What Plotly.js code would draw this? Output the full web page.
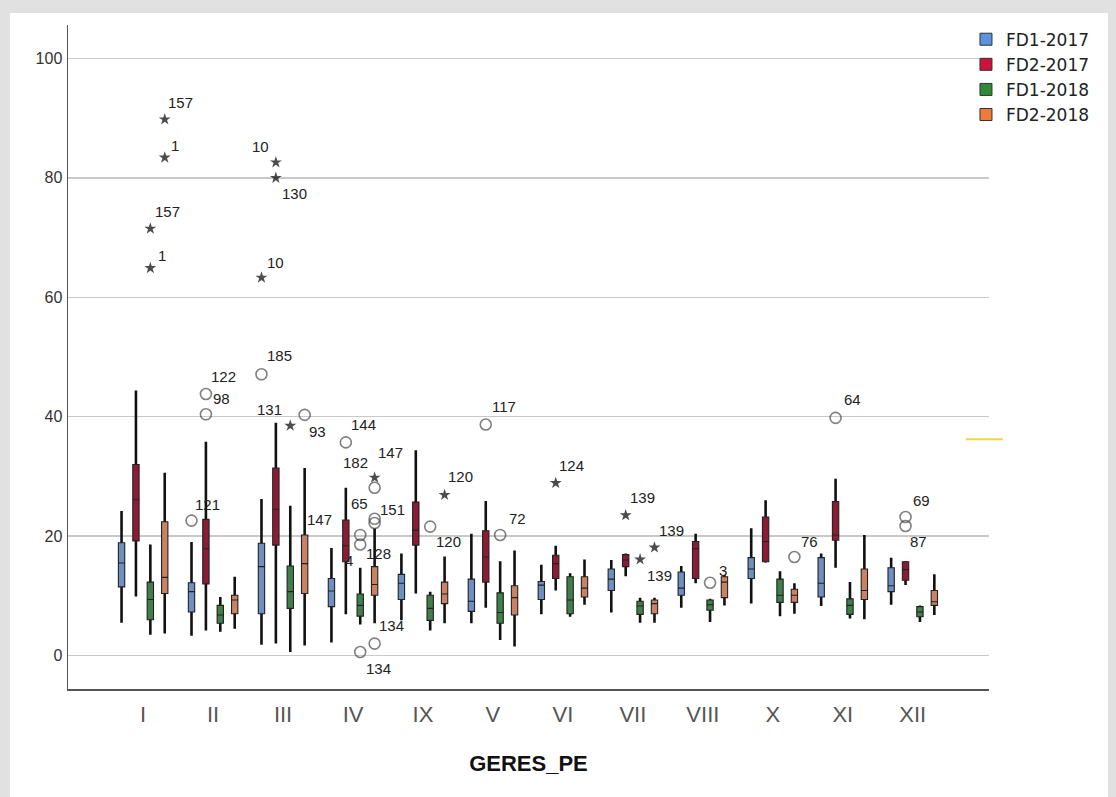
<!DOCTYPE html>
<html><head><meta charset="utf-8">
<script src="https://cdn.plot.ly/plotly-3.0.1.min.js"></script>
<style>
html,body{margin:0;padding:0;background:#e1e1e1;width:1116px;height:797px;overflow:hidden;}
#chart{position:absolute;left:10px;top:13px;width:1098px;height:784px;background:#fff;}
</style></head><body><div id="chart"></div>
<script>
// ---------- data ----------
const categories = ['I','II','III','IV','IX','V','VI','VII','VIII','X','XI','XII'];
const seriesNames = ['FD1-2017','FD2-2017','FD1-2018','FD2-2018'];

const fd1_2017_lower  = [5.5, 3.3, 1.8, 2.2, 5.9, 5.4, 6.9, 7.2, 8.0, 8.7, 8.3, 8.5];
const fd1_2017_q1     = [11.5, 7.3, 7.0, 8.2, 9.4, 7.4, 9.4, 10.9, 10.1, 12.9, 9.8, 10.7];
const fd1_2017_median = [15.5, 10.7, 14.9, 10.8, 12.1, 9.1, 11.8, 12.8, 11.3, 14.5, 12.1, 11.7];
const fd1_2017_q3     = [18.9, 12.2, 18.8, 12.9, 13.6, 12.8, 12.4, 14.5, 14.0, 16.4, 16.4, 14.7];
const fd1_2017_upper  = [24.2, 19.0, 26.2, 18.0, 17.1, 20.4, 15.2, 16.0, 15.0, 21.3, 17.1, 16.4];

const fd2_2017_lower  = [9.9, 4.2, 2.0, 6.9, 10.4, 8.0, 10.9, 13.3, 12.1, 15.6, 14.7, 11.8];
const fd2_2017_q1     = [19.2, 12.0, 18.5, 15.7, 18.5, 12.3, 12.9, 14.9, 12.9, 15.7, 19.3, 12.6];
const fd2_2017_median = [26.1, 17.9, 24.5, 18.4, 21.0, 16.5, 15.4, 16.0, 17.9, 19.1, 20.2, 14.4];
const fd2_2017_q3     = [32.0, 22.8, 31.4, 22.7, 25.7, 20.9, 16.8, 16.9, 19.1, 23.2, 25.8, 15.7];
const fd2_2017_upper  = [44.4, 35.8, 39.0, 28.1, 34.4, 25.9, 18.4, 17.1, 20.4, 26.0, 29.6, 15.8];

const fd1_2018_lower  = [3.5, 4.0, 0.6, 5.2, 4.2, 2.6, 6.5, 5.5, 5.6, 6.6, 6.2, 5.6];
const fd1_2018_q1     = [6.0, 5.4, 7.9, 6.6, 5.9, 5.4, 7.0, 6.9, 7.6, 8.9, 6.9, 6.5];
const fd1_2018_median = [9.4, 6.8, 10.7, 8.4, 7.9, 7.2, 9.3, 8.3, 8.5, 10.1, 8.4, 7.3];
const fd1_2018_q3     = [12.3, 8.4, 15.0, 10.3, 10.1, 10.5, 13.2, 9.1, 9.3, 12.8, 9.5, 8.2];
const fd1_2018_upper  = [18.6, 9.8, 25.1, 14.7, 10.7, 15.8, 13.8, 9.7, 9.5, 14.1, 12.3, 8.4];

const fd2_2018_lower  = [3.7, 4.5, 1.7, 5.4, 5.4, 1.5, 8.5, 5.5, 8.4, 7.0, 6.1, 6.8];
const fd2_2018_q1     = [10.4, 7.0, 10.4, 10.1, 8.7, 6.8, 9.8, 7.0, 9.7, 8.9, 9.4, 8.4];
const fd2_2018_median = [13.1, 9.3, 15.4, 11.9, 10.3, 9.7, 11.3, 8.7, 12.3, 10.1, 10.9, 9.0];
const fd2_2018_q3     = [22.4, 10.1, 20.2, 14.9, 12.3, 11.7, 13.2, 9.3, 13.2, 11.1, 14.5, 10.9];
const fd2_2018_upper  = [30.6, 13.2, 31.4, 21.3, 16.6, 17.6, 16.1, 9.7, 13.5, 12.1, 20.2, 13.6];

// outliers: 'o' = circle, '*' = extreme (star)
const fd1_2017_outCat   = ['II','III','III'];
const fd1_2017_outVal   = [22.6, 47.1, 63.3];
const fd1_2017_outKind  = ['o','o','*'];
const fd1_2017_outLabel = ['121','185','10'];

const fd2_2017_outCat   = ['II','II','III','III','IV','V','VI','VII','XI','XII','XII'];
const fd2_2017_outVal   = [43.8, 40.4, 82.6, 80.0, 35.7, 38.7, 28.9, 23.5, 39.8, 23.2, 21.7];
const fd2_2017_outKind  = ['o','o','*','*','o','o','*','*','o','o','o'];
const fd2_2017_outLabel = ['122','98','10','130','144','117','124','139','64','69','87'];

const fd1_2018_outCat   = ['I','I','III','IV','IV','IV','IX','V','VII','VIII'];
const fd1_2018_outVal   = [71.5, 64.9, 38.5, 20.2, 18.6, 0.6, 21.6, 20.2, 16.1, 12.2];
const fd1_2018_outKind  = ['*','*','*','o','o','o','o','o','*','o'];
const fd1_2018_outLabel = ['157','1','131','128','4','134','120','72','139','3'];

const fd2_2018_outCat   = ['I','I','III','IV','IV','IV','IV','IV','IX','VII','X'];
const fd2_2018_outVal   = [89.8, 83.4, 40.3, 29.8, 28.1, 22.9, 22.2, 2.0, 26.9, 18.1, 16.5];
const fd2_2018_outKind  = ['*','*','o','*','o','o','o','o','*','*','o'];
const fd2_2018_outLabel = ['157','1','93','147','182','65','151','134','120','139','76'];

// a case label whose marker is hidden behind the box edge
const fd2_2018_hiddenCat   = ['III'];
const fd2_2018_hiddenVal   = [20.2];
const fd2_2018_hiddenLabel = ['147'];

// ---------- styles ----------
const boxFill    = ['#6d8fc2', '#8c1c36', '#417f4a', '#c98263'];
const legendFill = ['#5b93dd', '#d2103c', '#2f8a36', '#f07a3a'];
const BOXGAP = 0.177, BOXGROUPGAP = 0.56;
// label offsets in px [dx, dy(up)] for each outlier label
const labelOffsets = [
  [[16,16],[18,19],[14,15]],
  [[18,18],[16,16],[-15,16],[19,-16],[18,18],[18,18],[16,17],[17,18],[17,18],[16,17],[13,-16]],
  [[17,17],[12,13],[-21,16],[18,-19],[-11,-16],[18,-17],[18,-15],[17,16],[19,-16],[13,12]],
  [[16,17],[10,12],[13,-17],[16,25],[-19,25],[-15,15],[18,14],[17,18],[16,18],[17,17],[15,16]]
];
const hiddenOffsets = [[15,15]];

const boxStats = [
  [fd1_2017_lower, fd1_2017_q1, fd1_2017_median, fd1_2017_q3, fd1_2017_upper],
  [fd2_2017_lower, fd2_2017_q1, fd2_2017_median, fd2_2017_q3, fd2_2017_upper],
  [fd1_2018_lower, fd1_2018_q1, fd1_2018_median, fd1_2018_q3, fd1_2018_upper],
  [fd2_2018_lower, fd2_2018_q1, fd2_2018_median, fd2_2018_q3, fd2_2018_upper]
];
const outliers = [
  [fd1_2017_outCat, fd1_2017_outVal, fd1_2017_outKind, fd1_2017_outLabel],
  [fd2_2017_outCat, fd2_2017_outVal, fd2_2017_outKind, fd2_2017_outLabel],
  [fd1_2018_outCat, fd1_2018_outVal, fd1_2018_outKind, fd1_2018_outLabel],
  [fd2_2018_outCat, fd2_2018_outVal, fd2_2018_outKind, fd2_2018_outLabel]
];

const nS = seriesNames.length;
const catIdx = c => categories.indexOf(c);
// same group offset as plotly's grouped boxes
const groupOffset = k => (1 - BOXGAP) * (-0.5 + (k + 0.5) / nS);

const FONT = 'Arial, "Liberation Sans", sans-serif';
const traces = [];
const annotations = [];
const xPos = categories.map((c, i) => i);

boxStats.forEach((s, k) => {
  // thick black whisker line (whole range), drawn first
  traces.push({
    type: 'box', name: seriesNames[k], showlegend: false, offsetgroup: 'g' + k,
    x: xPos, lowerfence: s[0], q1: s[2], median: s[2], q3: s[2], upperfence: s[4],
    fillcolor: 'rgba(0,0,0,0)', line: {color: '#111', width: 2.6},
    whiskerwidth: 0, boxpoints: false, hoverinfo: 'skip'
  });
  // coloured box on top
  traces.push({
    type: 'box', name: seriesNames[k], showlegend: false, offsetgroup: 'g' + k,
    x: xPos, lowerfence: s[1], q1: s[1], median: s[2], q3: s[3], upperfence: s[3],
    fillcolor: boxFill[k], line: {color: '#222', width: 1.1},
    whiskerwidth: 0, boxpoints: false, hoverinfo: 'y'
  });
});

outliers.forEach((o, k) => {
  const xs = o[0].map(c => catIdx(c) + groupOffset(k));
  traces.push({
    type: 'scatter', mode: 'markers', showlegend: false, name: seriesNames[k],
    x: xs, y: o[1],
    marker: {
      symbol: o[2].map(t => t === '*' ? 'star' : 'circle-open'),
      size: o[2].map(t => t === '*' ? 9 : 11),
      color: o[2].map(t => t === '*' ? '#000' : '#4a4a4a'),
      line: {width: o[2].map(t => t === '*' ? 0 : 1.6), color: '#4a4a4a'}
    },
    hoverinfo: 'y+text', text: o[3]
  });
  o[3].forEach((lab, j) => {
    annotations.push({
      x: xs[j], y: o[1][j], xref: 'x', yref: 'y', text: lab, showarrow: false,
      xshift: labelOffsets[k][j][0], yshift: labelOffsets[k][j][1],
      font: {family: FONT, size: 15, color: '#222'}
    });
  });
});
fd2_2018_hiddenLabel.forEach((lab, j) => {
  annotations.push({
    x: catIdx(fd2_2018_hiddenCat[j]) + groupOffset(3), y: fd2_2018_hiddenVal[j],
    xref: 'x', yref: 'y', text: lab, showarrow: false,
    xshift: hiddenOffsets[j][0], yshift: hiddenOffsets[j][1],
    font: {family: FONT, size: 15, color: '#222'}
  });
});

// legend entries
seriesNames.forEach((n, k) => {
  traces.push({
    type: 'scatter', mode: 'markers', name: n, x: [null], y: [null],
    marker: {symbol: 'square', size: 12, color: legendFill[k], line: {color: '#333', width: 1}},
    hoverinfo: 'skip'
  });
});

const layout = {
  width: 1098, height: 784,
  paper_bgcolor: '#ffffff', plot_bgcolor: '#ffffff',
  margin: {l: 57.5, r: 119, t: 12, b: 107.7, autoexpand: false},
  font: {family: FONT, color: '#222'},
  boxmode: 'group', boxgap: BOXGAP, boxgroupgap: BOXGROUPGAP,
  showlegend: true,
  legend: {x: 0.975, xanchor: 'left', y: 1.005, yanchor: 'top',
           font: {family: '"DejaVu Sans", Arial, sans-serif', size: 17, color: '#222'},
           bgcolor: 'rgba(0,0,0,0)', itemwidth: 30, tracegroupgap: 0},
  xaxis: {
    range: [-1.074, 12.09], tickmode: 'array',
    tickvals: xPos, ticktext: categories,
    showgrid: false, zeroline: false, showline: true, linecolor: '#555', linewidth: 1.5,
    ticks: '', ticklabelstandoff: 5,
    tickfont: {family: FONT, size: 22, color: '#555'},
    title: {text: 'GERES_PE', standoff: 29,
            font: {family: FONT, size: 22, color: '#111', weight: 'bold'}}
  },
  yaxis: {
    range: [-5.6, 105.6], tickmode: 'array', tickvals: [0, 20, 40, 60, 80, 100],
    showgrid: true, gridcolor: '#c9c9c9', gridwidth: 1.5, zeroline: false,
    showline: true, linecolor: '#555', linewidth: 1.5, ticks: '', ticklabelstandoff: 1,
    tickfont: {family: FONT, size: 16, color: '#333'}
  },
  annotations: annotations,
  shapes: [{type: 'line', xref: 'paper', yref: 'paper', x0: 0.975, x1: 1.015, y0: 0.376, y1: 0.376,
            line: {color: '#f5d442', width: 2}}]
};

Plotly.newPlot('chart', traces, layout, {displayModeBar: false, staticPlot: true});
</script></body></html>
